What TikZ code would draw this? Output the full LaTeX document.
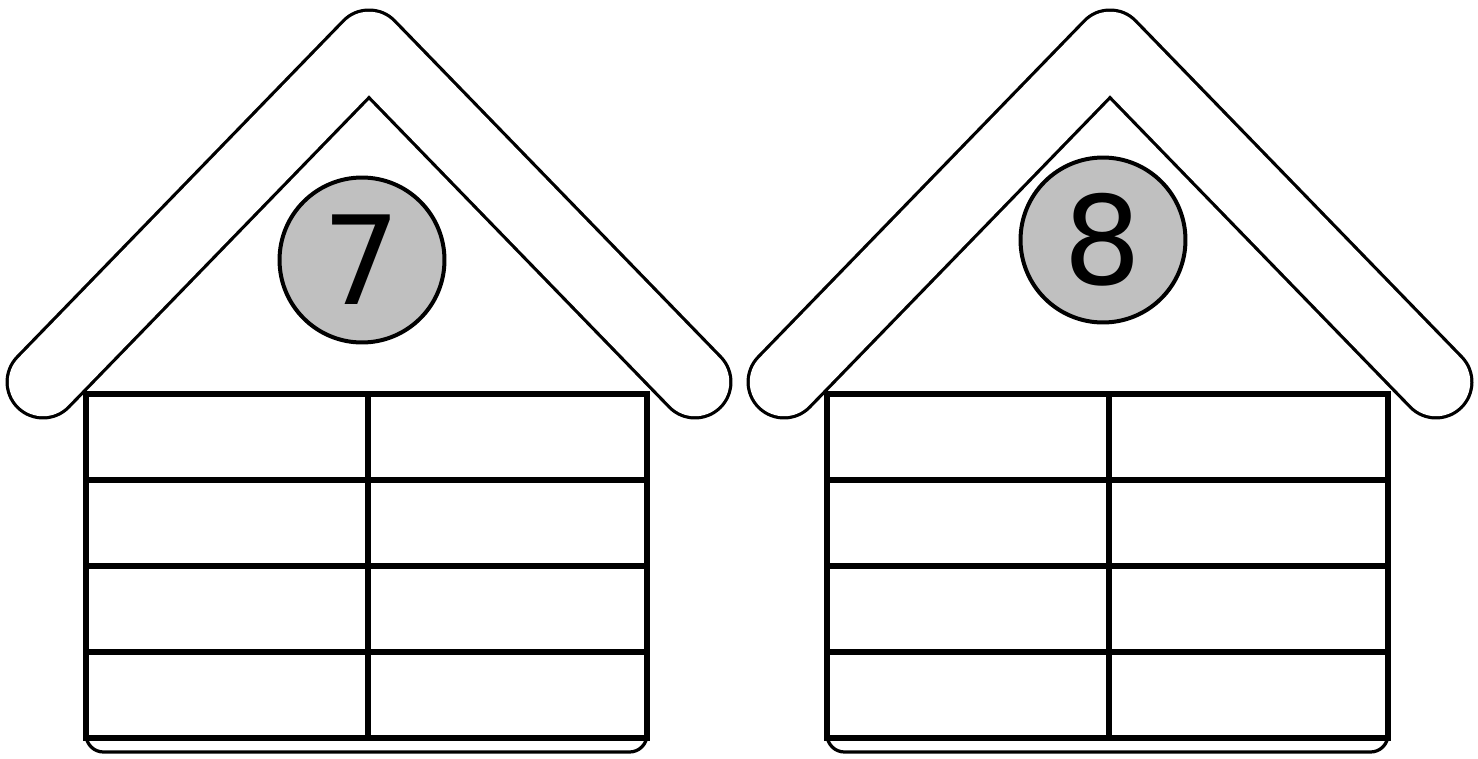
\documentclass[tikz,border=0pt]{standalone}
\usepackage{fontspec}
\setmainfont{DejaVu Sans}
\definecolor{badgegray}{RGB}{192,192,192}

\begin{document}
\begin{tikzpicture}[x=0.02cm, y=-0.02cm,
    thinline/.style={line width=0.065cm},
    gridline/.style={line width=0.12cm, line cap=rect},
    roofband/.style={line width=1.5cm, line cap=round, line join=round},
    roofinner/.style={white, line width=1.37cm, line cap=round, line join=round},
    numcircle/.style={circle, draw, line width=0.08cm, fill=badgegray, minimum size=3.3cm,
        inner sep=0pt, font=\fontsize{70}{70}\selectfont}]

\useasboundingbox (0,0) rectangle (1478,758);

\foreach \dx/\cy/\num in {0/260/7, 741/240/8} {
  \begin{scope}[xshift=\dx*0.02cm]
    % walls
    \draw[thinline, rounded corners=0.35cm] (86,394) -- (86,752) -- (647,752) -- (647,394);
    \foreach \y in {394,480,566,652,738}
      \draw[gridline] (86,\y) -- (647,\y);
    \foreach \x in {86,368,647}
      \draw[gridline] (\x,394) -- (\x,738);
    % roof
    \coordinate (eaveL\num) at (43,382);
    \coordinate (ridge\num) at (369,46);
    \coordinate (eaveR\num) at (695,382);
    \draw[roofband] (eaveL\num) -- (ridge\num) -- (eaveR\num);
    \draw[roofinner] (eaveL\num) -- (ridge\num) -- (eaveR\num);
    % number
    \node[numcircle] (num\num) at (362,\cy) {\num};
  \end{scope}
}

\end{tikzpicture}
\end{document}
